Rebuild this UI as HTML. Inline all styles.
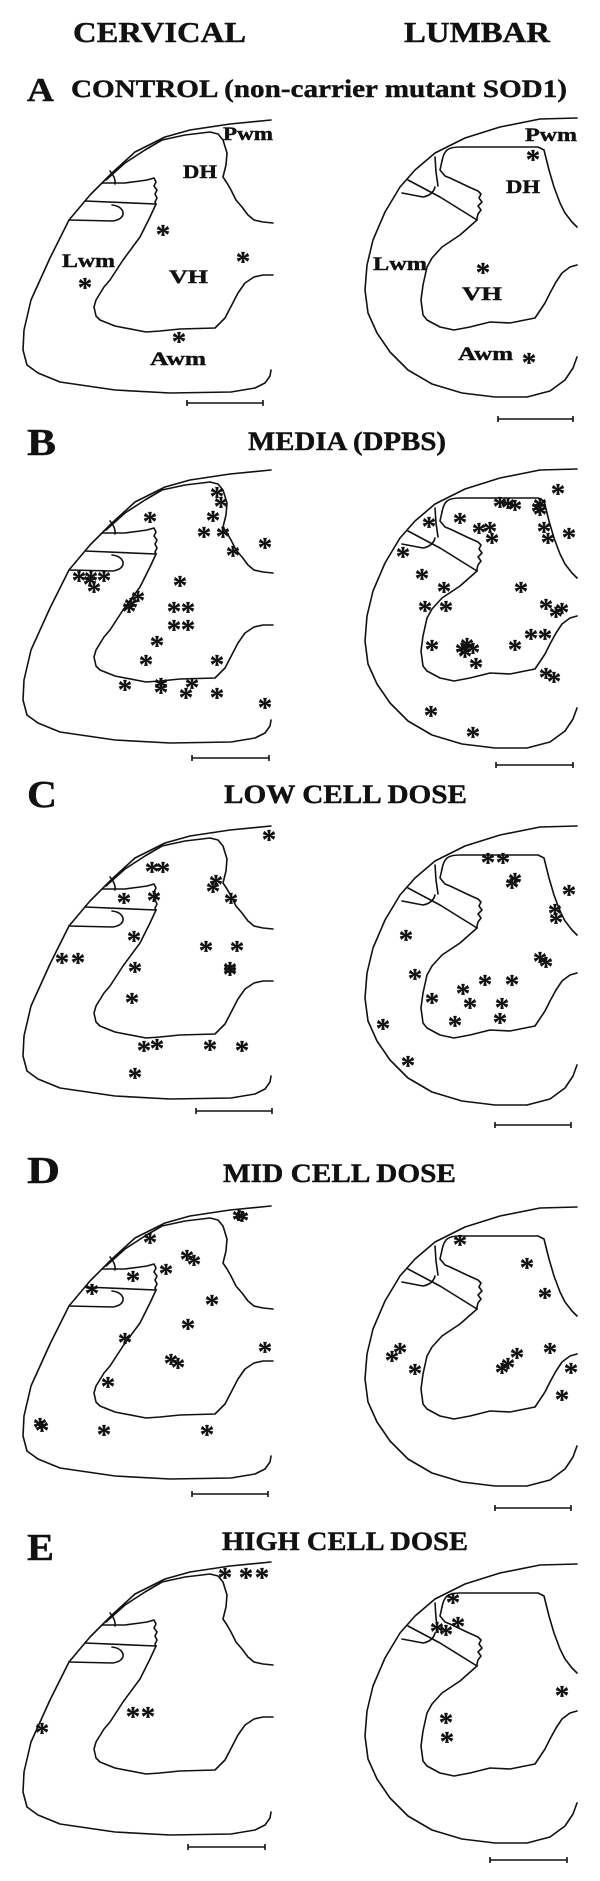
<!DOCTYPE html>
<html><head><meta charset="utf-8"><style>
html,body{margin:0;padding:0;background:#fff;}
svg{display:block;}
</style></head><body>
<svg width="600" height="1881" viewBox="0 0 600 1881" xmlns="http://www.w3.org/2000/svg" font-family="'Liberation Serif', 'Times New Roman', serif" font-weight="700" fill="#111">
<style>
text{font-family:"Liberation Serif","Times New Roman",serif;font-weight:700;fill:#111;stroke:#111;stroke-width:0.4;}
.s{font-size:29px;text-anchor:middle;stroke-width:0.3;}
</style>
<defs>
<g id="cerv" fill="none" stroke="#111" stroke-width="1.6" stroke-linejoin="round" stroke-linecap="round">
<polyline points="271,120 230,124 190,130 165,137 135,152 112,173 90,195 69,220 50,258 31,300 24,330 23,350 27,365 38,373 60,382 115,390 170,393 231,392 255,388 265,383 270,376 271,370"/>
<polyline points="106,180 125,163 145,150 162,140 185,135 210,132 218,134 223,140 227,153 226,165 223,177 227,183 231,190 236,200 242,207 248,215 254,220 263,222 273,223"/>
<path d="M110,171 Q116,178 115,184"/>
<polyline points="102,183 125,183 140,181 147,180 154,178 156,182 154,186 157,190 155,194 157,198 155,202 156,204"/>
<polyline points="85,201 156,204"/>
<path d="M69,220 L113,221 Q124,219 123,212 Q121,206 112,205"/>
<polyline points="156,204 150,217 140,237 123,260 110,280 104,287 96,300 94,307 96,316 100,320 115,326 146,332 160,331 180,329 215,328 225,318 238,293 245,283 254,277 263,275 273,275"/>
</g>
<g id="lumb" fill="none" stroke="#111" stroke-width="1.6" stroke-linejoin="round" stroke-linecap="round">
<polyline points="577,118 540,119 500,127 465,138 435,153 415,170 400,187 385,212 373,240 367,265 365,290 368,313 377,333 390,352 408,370 432,384 462,393 495,397 527,397 550,391 565,380 573,368 577,357"/>
<path d="M442,161 C444,150 448,147 460,147 L538,147 L544,150 L549,170 L554,187 L560,203 L565,213 L572,222 L577,227"/>
<polyline points="442,161 440,170 445,176 450,178 469,187 478,191 481,194 479,198 482,202 478,206 481,210 478,214 477,218 477,220"/>
<polyline points="435,157 436,172 438,186"/>
<polyline points="408,180 440,197 477,220"/>
<path d="M402,193 L423,197 Q433,195 435,187"/>
<polyline points="477,220 460,235 442,247 432,258 427,267 423,285 421,300 423,315 427,320 440,327 454,330 470,327 490,322 510,323 535,318 545,303 550,293 556,282 562,273 570,267 577,265"/>
</g>
</defs>

<text x="73" y="42" font-size="28" textLength="173" lengthAdjust="spacingAndGlyphs">CERVICAL</text>
<text x="404" y="42" font-size="28" textLength="146" lengthAdjust="spacingAndGlyphs">LUMBAR</text>

<text x="27" y="101" font-size="34" textLength="27" lengthAdjust="spacingAndGlyphs">A</text>
<text x="71" y="97" font-size="25" textLength="496" lengthAdjust="spacingAndGlyphs">CONTROL (non-carrier mutant SOD1)</text>
<use href="#cerv"/>
<use href="#lumb"/>
<g font-size="19">
<text x="223" y="140" font-size="19" textLength="50" lengthAdjust="spacingAndGlyphs">Pwm</text>
<text x="183" y="178" font-size="19" textLength="34" lengthAdjust="spacingAndGlyphs">DH</text>
<text x="62" y="267" font-size="19" textLength="53" lengthAdjust="spacingAndGlyphs">Lwm</text>
<text x="169" y="283" font-size="19" textLength="39" lengthAdjust="spacingAndGlyphs">VH</text>
<text x="150" y="365" font-size="19" textLength="56" lengthAdjust="spacingAndGlyphs">Awm</text>
<text x="525" y="141" font-size="19" textLength="52" lengthAdjust="spacingAndGlyphs">Pwm</text>
<text x="506" y="193" font-size="19" textLength="34" lengthAdjust="spacingAndGlyphs">DH</text>
<text x="373" y="270" font-size="19" textLength="54" lengthAdjust="spacingAndGlyphs">Lwm</text>
<text x="462" y="300" font-size="19" textLength="40" lengthAdjust="spacingAndGlyphs">VH</text>
<text x="458" y="360" font-size="19" textLength="55" lengthAdjust="spacingAndGlyphs">Awm</text>
</g>
<g transform="translate(0,14)">
<text class="s" x="163" y="230">*</text><text class="s" x="243" y="257">*</text><text class="s" x="85" y="283">*</text><text class="s" x="179" y="337">*</text>
<text class="s" x="533" y="155">*</text><text class="s" x="483" y="268">*</text><text class="s" x="529" y="358">*</text>
</g>

<text x="27" y="455" font-size="38" textLength="29" lengthAdjust="spacingAndGlyphs">B</text>
<text x="248" y="450" font-size="26" textLength="198" lengthAdjust="spacingAndGlyphs">MEDIA (DPBS)</text>
<use href="#cerv" transform="translate(0,350)"/>
<use href="#lumb" transform="translate(0,351)"/>
<g transform="translate(0,14)">
<text class="s" x="217" y="492">*</text><text class="s" x="221" y="502">*</text><text class="s" x="150" y="517">*</text><text class="s" x="213" y="516">*</text>
<text class="s" x="204" y="532">*</text><text class="s" x="223" y="532">*</text><text class="s" x="265" y="543">*</text><text class="s" x="233" y="551">*</text>
<text class="s" x="79" y="576">*</text><text class="s" x="91" y="576">*</text><text class="s" x="104" y="576">*</text><text class="s" x="94" y="587">*</text><text class="s" x="90" y="580">*</text>
<text class="s" x="180" y="581">*</text><text class="s" x="138" y="596">*</text><text class="s" x="131" y="603">*</text><text class="s" x="129" y="607">*</text>
<text class="s" x="174" y="607">*</text><text class="s" x="188" y="607">*</text><text class="s" x="174" y="625">*</text><text class="s" x="188" y="625">*</text>
<text class="s" x="157" y="641">*</text><text class="s" x="146" y="660">*</text><text class="s" x="217" y="660">*</text>
<text class="s" x="125" y="685">*</text><text class="s" x="161" y="683">*</text><text class="s" x="161" y="688">*</text><text class="s" x="192" y="683">*</text>
<text class="s" x="186" y="693">*</text><text class="s" x="217" y="693">*</text><text class="s" x="265" y="703">*</text>
<text class="s" x="558" y="489">*</text><text class="s" x="500" y="502">*</text><text class="s" x="515" y="505">*</text><text class="s" x="508" y="503">*</text>
<text class="s" x="540" y="503">*</text><text class="s" x="540" y="510">*</text><text class="s" x="538" y="507">*</text>
<text class="s" x="429" y="522">*</text><text class="s" x="460" y="518">*</text><text class="s" x="479" y="528">*</text><text class="s" x="490" y="527">*</text><text class="s" x="492" y="538">*</text>
<text class="s" x="544" y="527">*</text><text class="s" x="548" y="538">*</text><text class="s" x="569" y="533">*</text>
<text class="s" x="403" y="552">*</text><text class="s" x="422" y="574">*</text><text class="s" x="444" y="587">*</text><text class="s" x="521" y="587">*</text>
<text class="s" x="425" y="606">*</text><text class="s" x="446" y="606">*</text><text class="s" x="546" y="604">*</text><text class="s" x="556" y="612">*</text><text class="s" x="562" y="608">*</text>
<text class="s" x="531" y="634">*</text><text class="s" x="545" y="634">*</text><text class="s" x="515" y="645">*</text><text class="s" x="432" y="645">*</text>
<text class="s" x="462" y="648">*</text><text class="s" x="467" y="643">*</text><text class="s" x="473" y="648">*</text><text class="s" x="465" y="652">*</text>
<text class="s" x="476" y="663">*</text><text class="s" x="546" y="673">*</text><text class="s" x="554" y="677">*</text>
<text class="s" x="431" y="711">*</text><text class="s" x="473" y="732">*</text>
</g>

<text x="27" y="807" font-size="38" textLength="30" lengthAdjust="spacingAndGlyphs">C</text>
<text x="224" y="803" font-size="26" textLength="243" lengthAdjust="spacingAndGlyphs">LOW CELL DOSE</text>
<use href="#cerv" transform="translate(0,706)"/>
<use href="#lumb" transform="translate(0,708)"/>
<g transform="translate(0,14)">
<text class="s" x="269" y="835">*</text><text class="s" x="152" y="867">*</text><text class="s" x="163" y="867">*</text>
<text class="s" x="216" y="880">*</text><text class="s" x="213" y="887">*</text><text class="s" x="231" y="898">*</text>
<text class="s" x="124" y="898">*</text><text class="s" x="154" y="896">*</text><text class="s" x="134" y="936">*</text>
<text class="s" x="206" y="946">*</text><text class="s" x="237" y="946">*</text><text class="s" x="62" y="958">*</text><text class="s" x="78" y="958">*</text>
<text class="s" x="135" y="967">*</text><text class="s" x="230" y="970">*</text><text class="s" x="230" y="967">*</text>
<text class="s" x="132" y="998">*</text><text class="s" x="144" y="1046">*</text><text class="s" x="157" y="1044">*</text>
<text class="s" x="210" y="1045">*</text><text class="s" x="242" y="1046">*</text><text class="s" x="135" y="1073">*</text>
<text class="s" x="488" y="858">*</text><text class="s" x="503" y="858">*</text><text class="s" x="515" y="878">*</text><text class="s" x="512" y="883">*</text>
<text class="s" x="569" y="890">*</text><text class="s" x="555" y="909">*</text><text class="s" x="556" y="918">*</text>
<text class="s" x="406" y="935">*</text><text class="s" x="540" y="957">*</text><text class="s" x="546" y="962">*</text>
<text class="s" x="415" y="974">*</text><text class="s" x="485" y="980">*</text><text class="s" x="512" y="980">*</text>
<text class="s" x="463" y="989">*</text><text class="s" x="432" y="998">*</text><text class="s" x="470" y="1003">*</text><text class="s" x="502" y="1003">*</text>
<text class="s" x="455" y="1021">*</text><text class="s" x="500" y="1018">*</text><text class="s" x="383" y="1024">*</text><text class="s" x="408" y="1061">*</text>
</g>

<text x="27" y="1183" font-size="38" textLength="33" lengthAdjust="spacingAndGlyphs">D</text>
<text x="223" y="1182" font-size="26" textLength="233" lengthAdjust="spacingAndGlyphs">MID CELL DOSE</text>
<use href="#cerv" transform="translate(0,1086)"/>
<use href="#lumb" transform="translate(0,1089)"/>
<g transform="translate(0,14)">
<text class="s" x="239" y="1215">*</text><text class="s" x="242" y="1216">*</text><text class="s" x="150" y="1238">*</text>
<text class="s" x="187" y="1255">*</text><text class="s" x="194" y="1260">*</text><text class="s" x="166" y="1269">*</text>
<text class="s" x="133" y="1276">*</text><text class="s" x="92" y="1289">*</text><text class="s" x="212" y="1300">*</text>
<text class="s" x="188" y="1324">*</text><text class="s" x="125" y="1338">*</text><text class="s" x="265" y="1347">*</text>
<text class="s" x="171" y="1359">*</text><text class="s" x="178" y="1363">*</text><text class="s" x="108" y="1382">*</text>
<text class="s" x="40" y="1423">*</text><text class="s" x="42" y="1426">*</text><text class="s" x="104" y="1430">*</text><text class="s" x="207" y="1430">*</text>
<text class="s" x="460" y="1240">*</text><text class="s" x="527" y="1263">*</text><text class="s" x="545" y="1293">*</text>
<text class="s" x="400" y="1348">*</text><text class="s" x="392" y="1356">*</text><text class="s" x="415" y="1369">*</text>
<text class="s" x="550" y="1348">*</text><text class="s" x="517" y="1353">*</text><text class="s" x="508" y="1363">*</text><text class="s" x="502" y="1368">*</text>
<text class="s" x="571" y="1368">*</text><text class="s" x="562" y="1395">*</text>
</g>

<text x="27" y="1560" font-size="38" textLength="27" lengthAdjust="spacingAndGlyphs">E</text>
<text x="222" y="1550" font-size="26" textLength="246" lengthAdjust="spacingAndGlyphs">HIGH CELL DOSE</text>
<use href="#cerv" transform="translate(0,1442)"/>
<use href="#lumb" transform="translate(0,1446)"/>
<g transform="translate(0,14)">
<text class="s" x="225" y="1573">*</text><text class="s" x="246" y="1573">*</text><text class="s" x="262" y="1573">*</text>
<text class="s" x="133" y="1712">*</text><text class="s" x="148" y="1712">*</text><text class="s" x="42" y="1728">*</text>
<text class="s" x="453" y="1598">*</text><text class="s" x="458" y="1622">*</text><text class="s" x="437" y="1627">*</text><text class="s" x="446" y="1630">*</text>
<text class="s" x="562" y="1691">*</text><text class="s" x="446" y="1718">*</text><text class="s" x="447" y="1737">*</text>
</g>

<g stroke="#111" stroke-width="1.6" fill="none">
<path d="M187,403 H263 M187,400 V406 M263,400 V406"/>
<path d="M498,419 H573 M498,416 V422 M573,416 V422"/>
<path d="M192,758 H269 M192,755 V761 M269,755 V761"/>
<path d="M496,765 H573 M496,762 V768 M573,762 V768"/>
<path d="M196,1111 H272 M196,1108 V1114 M272,1108 V1114"/>
<path d="M495,1125 H571 M495,1122 V1128 M571,1122 V1128"/>
<path d="M192,1494 H268 M192,1491 V1497 M268,1491 V1497"/>
<path d="M495,1508 H571 M495,1505 V1511 M571,1505 V1511"/>
<path d="M188,1847 H265 M188,1844 V1850 M265,1844 V1850"/>
<path d="M490,1860 H567 M490,1857 V1863 M567,1857 V1863"/>
</g>
</svg>
</body></html>
